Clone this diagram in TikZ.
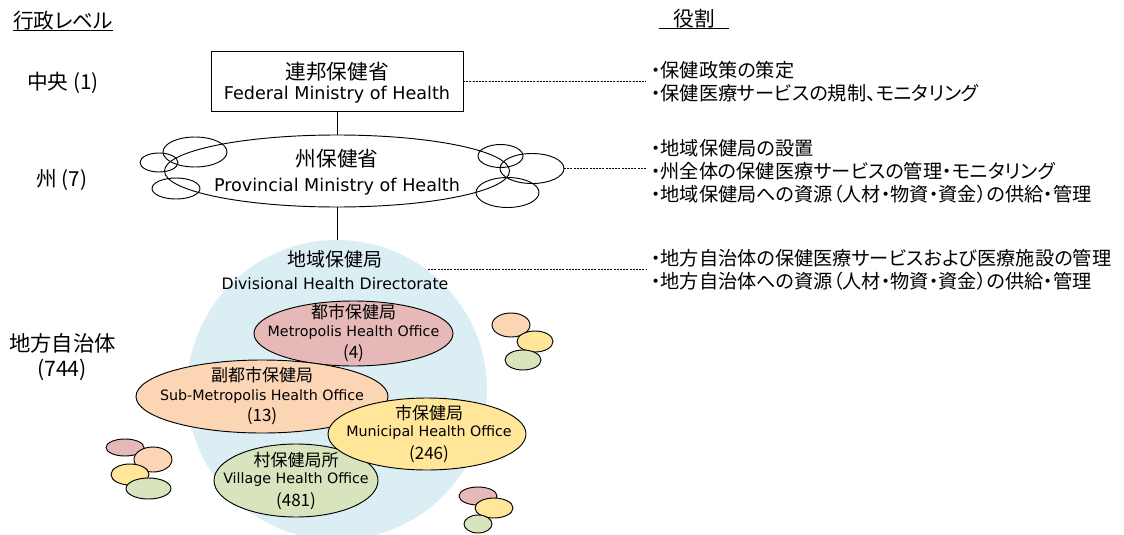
\documentclass[tikz,border=0pt]{standalone}
\usepackage{fontspec}
\setmainfont{Noto Sans CJK JP}[RawFeature={+palt}]
\newfontfamily\lat{DejaVu Sans}
\usetikzlibrary{shapes.geometric}
\definecolor{cblue}{HTML}{DAEEF3}
\definecolor{cpink}{HTML}{E6B9B8}
\definecolor{cpeach}{HTML}{FCD5B5}
\definecolor{cyel}{HTML}{FFE699}
\definecolor{cgreen}{HTML}{D7E4BD}
\tikzset{
  txt/.style={inner sep=0pt, outer sep=0pt, anchor=center},
  jpL/.style={txt, font=\fontsize{15.5pt}{18pt}\selectfont},
  latL/.style={txt, font=\lat\fontsize{13.2pt}{16pt}\selectfont},
  jpM/.style={txt, font=\fontsize{14.2pt}{17pt}\selectfont},
  latM/.style={txt, font=\lat\fontsize{11.8pt}{14pt}\selectfont},
  jpS/.style={txt, font=\fontsize{12.75pt}{15pt}\selectfont},
  latS/.style={txt, font=\lat\fontsize{10.7pt}{13pt}\selectfont},
  numS/.style={txt, font=\fontsize{12.75pt}{15pt}\selectfont},
  lab/.style={txt, font=\fontsize{15.5pt}{18pt}\selectfont},
  labB/.style={txt, font=\fontsize{16pt}{19pt}\selectfont},
  rolebox/.style={inner sep=0pt, outer sep=3.75pt, anchor=west, align=left,
    font=\fontsize{14.4pt}{17.25pt}\selectfont},
  conn/.style={line width=0.75pt},
  dotline/.style={line width=0.75pt, dash pattern=on 1.5pt off 0.9pt},
  sz/.style 2 args={minimum width=#1*1.5pt, minimum height=#2*1.5pt},
  oval/.style={ellipse, draw, line width=0.7pt, inner sep=0pt, outer sep=0pt},
  fedbox/.style={rectangle, draw, line width=0.75pt, inner sep=0pt, outer sep=0pt,
    minimum width=189pt, minimum height=44.25pt},
}
\begin{document}
\begin{tikzpicture}[x=0.75pt, y=-0.75pt]
\useasboundingbox (0,0) rectangle (1124,535);

% titles
\node[lab, minimum width=75pt] (t1) at (63,21) {行政レベル};
\draw[conn] (t1.south west) -- (t1.south east);
\node[lab, minimum width=52.5pt] (t2) at (694,19) {役割};
\draw[conn] (t2.south west) -- (t2.south east);

% level labels
\node[lab] (lv1) at (63,83) {中央 (1)};
\node[lab] (lv2) at (62,180) {州 (7)};
\node[labB] (lv3) at (62.5,343) {地方自治体};
\node[labB] (lv3n) at (62,370) {(744)};

% divisional circle
\node[circle, fill=cblue, inner sep=0pt, outer sep=0pt, minimum size=225pt] (div) at (337,390) {};
\node[jpM] (divjp) at (335,259) {地域保健局};
\node[latM] (divlat) at (335,284) {Divisional Health Directorate};

% federal
\node[fedbox] (fed) at (337,81.5) {};
\node[jpL] (fedjp) at (337,72) {連邦保健省};
\node[latL] (fedlat) at (337,95) {Federal Ministry of Health};

% provincial cloud
\node[oval, sz={172.5}{36}] (prov) at (337,171) {};
\node[oval, sz={32}{15}] (pc1) at (195,152) {};
\node[oval, sz={19}{9.5}] (pc2) at (159,162.5) {};
\node[oval, sz={24}{10.5}] (pc3) at (176,188.5) {};
\node[oval, sz={22.5}{11.5}] (pc4) at (500.5,156) {};
\node[oval, sz={32}{15}] (pc5) at (532,168.5) {};
\node[oval, sz={31.5}{15}] (pc6) at (507.5,192.5) {};
\node[jpL] (provjp) at (337,159) {州保健省};
\node[latL] (provlat) at (337,187) {Provincial Ministry of Health};

% connectors
\draw[conn] (fed.south) -- (prov.north);
\draw[conn] (prov.south) -- (div.north);

% offices
\node[oval, fill=cpink, sz={99.5}{32.5}] (metro) at (353.5,333.5) {};
\node[oval, fill=cpeach, sz={126}{36.5}] (sub) at (262,396.5) {};
\node[oval, fill=cgreen, sz={82}{36.5}] (vil) at (296,480.5) {};
\node[oval, fill=cyel, sz={99}{36}] (muni) at (427,434) {};

\node[jpS] at (353.5,312) {都市保健局};
\node[latS] at (353.5,333) {Metropolis Health Office};
\node[numS] at (353.5,353) {(4)};
\node[jpS] at (262,375) {副都市保健局};
\node[latS] at (262,397) {Sub-Metropolis Health Office};
\node[numS] at (262,416) {(13)};
\node[jpS] at (429,413) {市保健局};
\node[latS] at (429,433) {Municipal Health Office};
\node[numS] at (429,454) {(246)};
\node[jpS] at (296,460) {村保健局所};
\node[latS] at (296,480) {Village Health Office};
\node[numS] at (296,501) {(481)};

% small clusters
\node[oval, fill=cpink, sz={19}{8.5}] (l1) at (125,447.5) {};
\node[oval, fill=cpeach, sz={19}{12.5}] (l2) at (153,459.5) {};
\node[oval, fill=cyel, sz={19}{10.5}] (l3) at (130,474.5) {};
\node[oval, fill=cgreen, sz={22.5}{10.5}] (l4) at (148.5,488.5) {};

\node[oval, fill=cpeach, sz={19}{12}] (r1) at (511,325) {};
\node[oval, fill=cyel, sz={18}{10.5}] (r2) at (535,341.5) {};
\node[oval, fill=cgreen, sz={18}{10}] (r3) at (523,360) {};

\node[oval, fill=cpink, sz={19}{9}] (b1) at (478,496) {};
\node[oval, fill=cyel, sz={19}{10}] (b2) at (494,508) {};
\node[oval, fill=cgreen, sz={14}{9}] (b3) at (478,524) {};

% roles
\node[rolebox] (role1) at (646,81.5) {・保健政策の策定\\・保健医療サービスの規制、モニタリング};
\node[rolebox] (role2) at (646,171) {・地域保健局の設置\\・州全体の保健医療サービスの管理・モニタリング\\・地域保健局への資源（人材・物資・資金）の供給・管理};
\node[rolebox] (role3) at (646,269.5) {・地方自治体の保健医療サービスおよび医療施設の管理\\・地方自治体への資源（人材・物資・資金）の供給・管理};

\coordinate (d3) at (428,269.5);
\draw[dotline] (fed.east) -- (fed.east -| role1.west);
\draw[dotline] (pc5.east) -- (pc5.east -| role2.west);
\draw[dotline] (d3) -- (d3 -| role3.west);
\end{tikzpicture}
\end{document}
